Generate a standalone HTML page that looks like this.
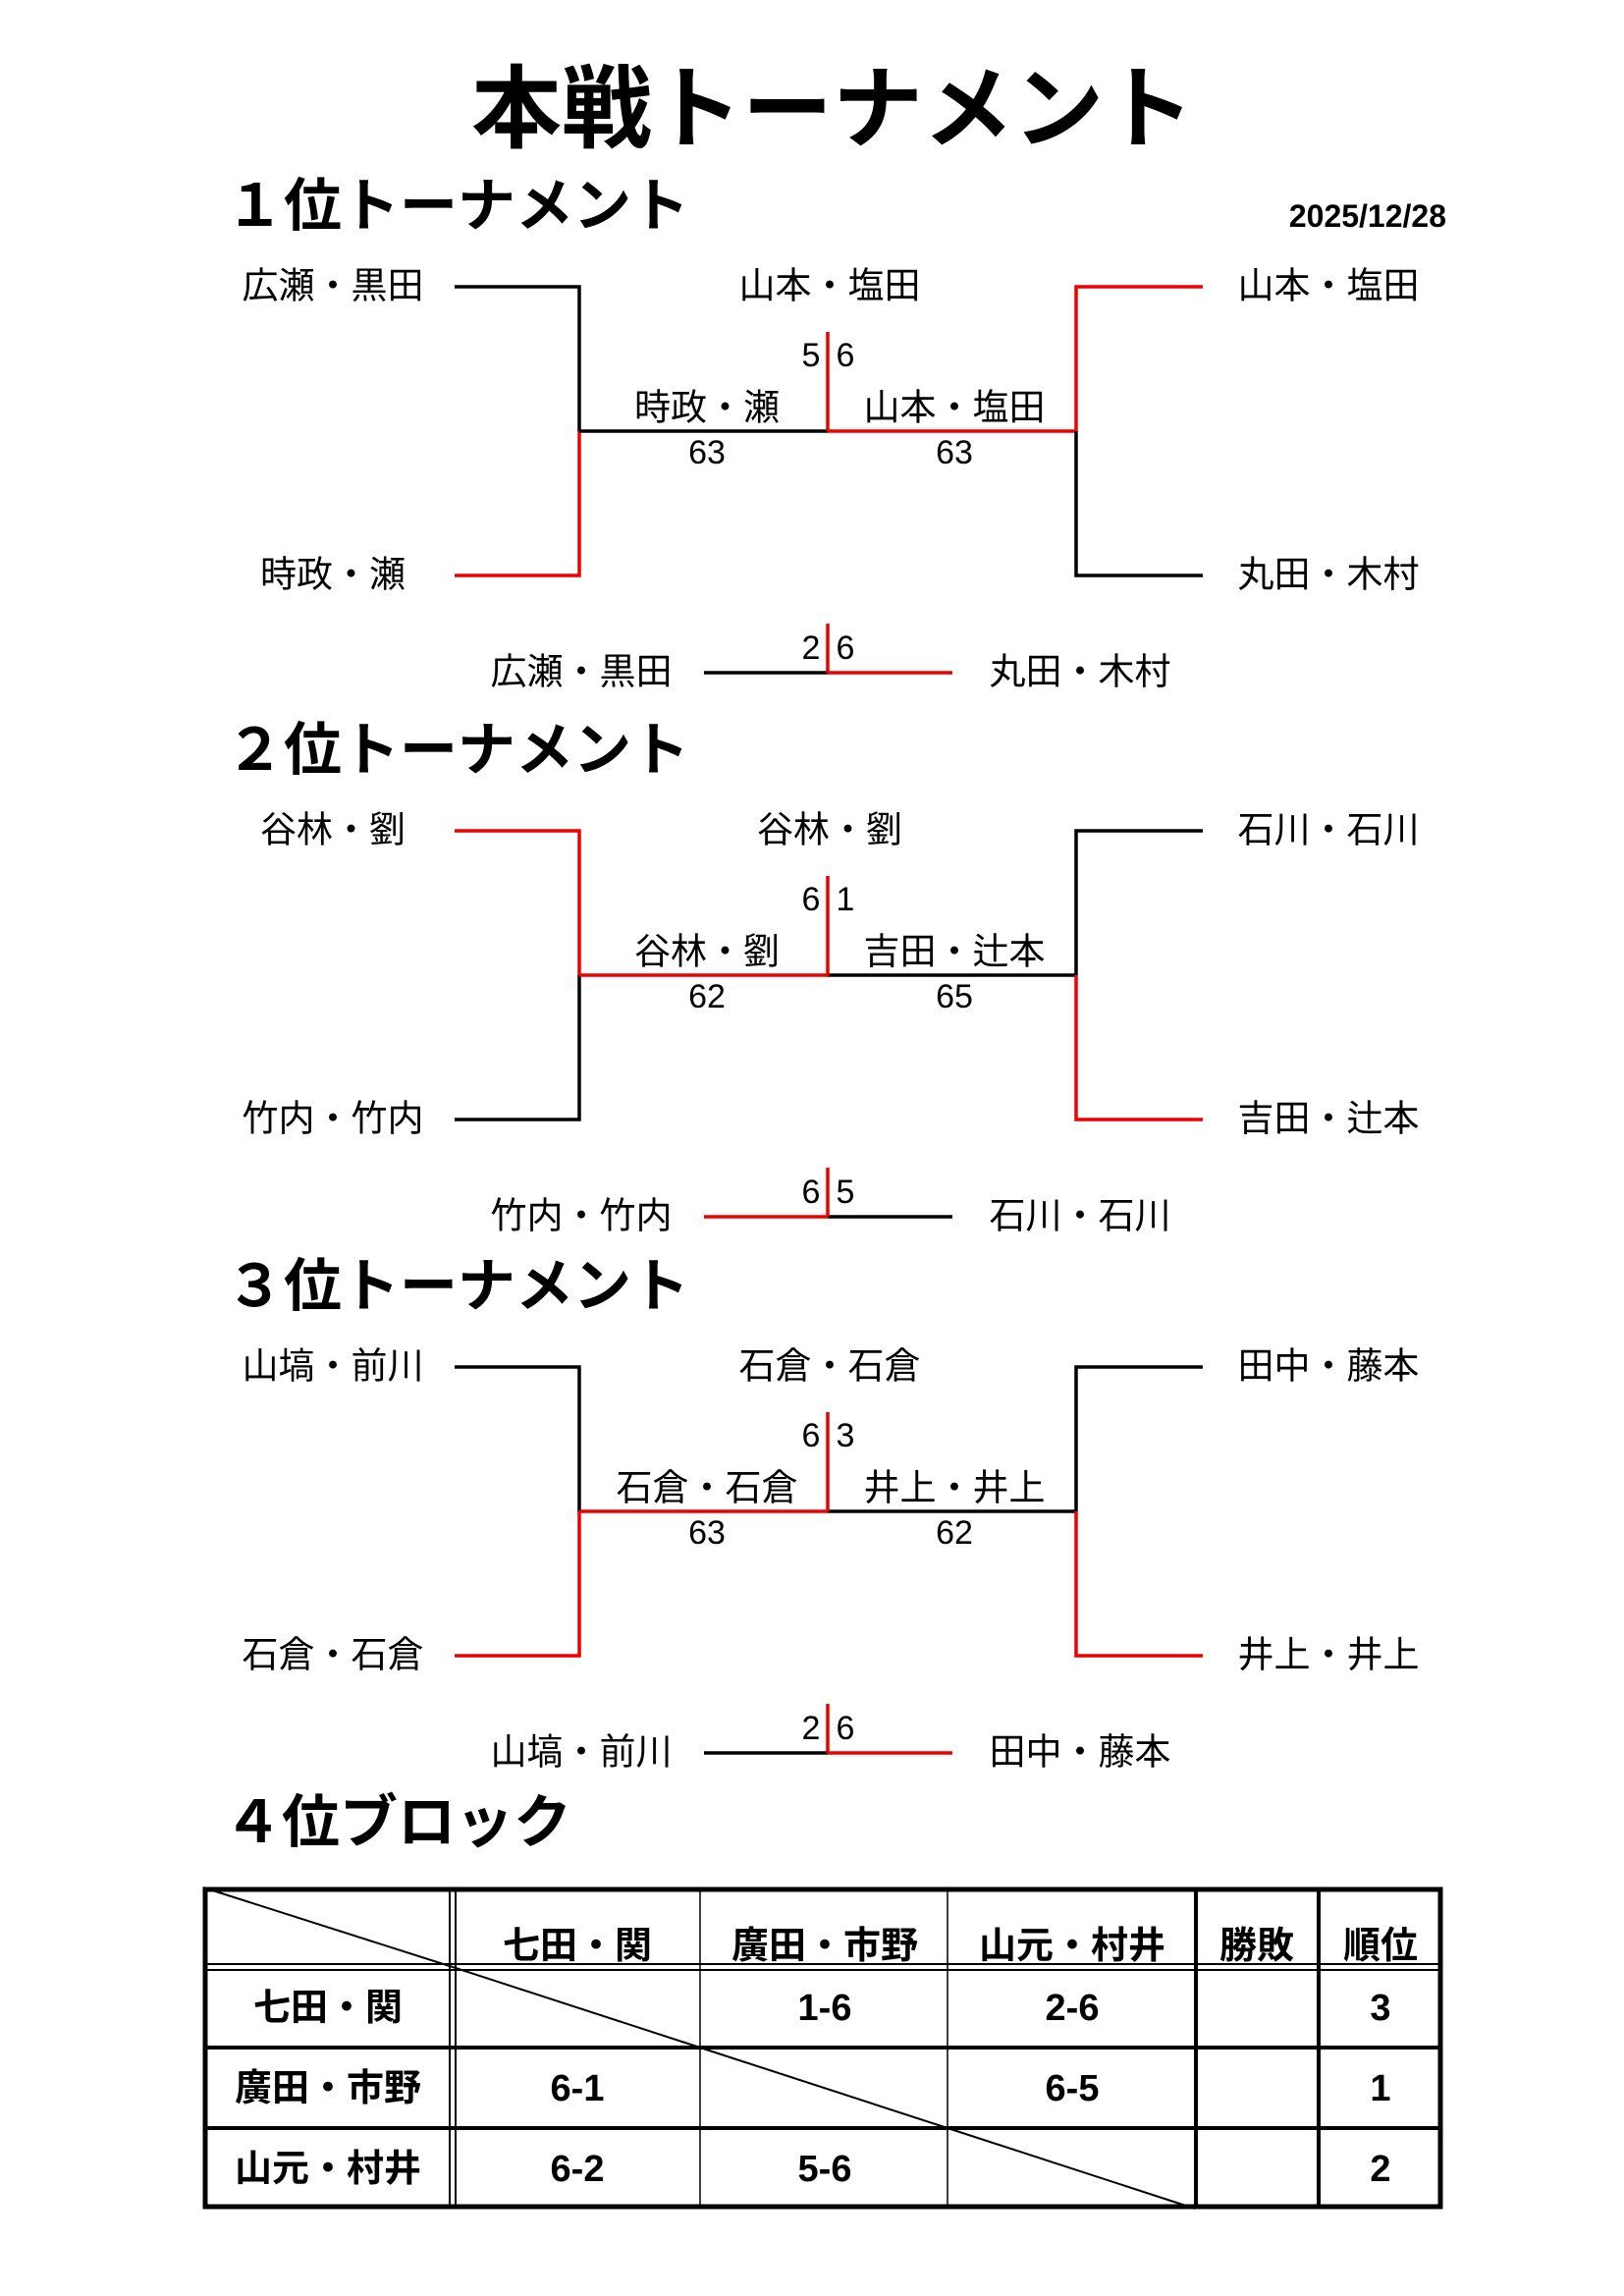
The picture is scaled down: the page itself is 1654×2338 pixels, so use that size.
<!DOCTYPE html>
<html><head><meta charset="utf-8"><style>
html,body{margin:0;padding:0;background:#fff;}
svg{display:block;}
text{font-family:"Liberation Sans","Noto Sans CJK JP",sans-serif;}
.h{font-weight:bold;}
.n{font-size:37px;text-anchor:middle;dominant-baseline:central;}
.s{font-size:34px;text-anchor:middle;dominant-baseline:central;}
.t{font-size:38px;font-weight:bold;text-anchor:middle;dominant-baseline:central;}
</style></head><body>
<svg width="1654" height="2338" viewBox="0 0 1654 2338" xmlns="http://www.w3.org/2000/svg">
<rect width="1654" height="2338" fill="#fff"/>
<text x="848" y="112" class="h" font-size="92" text-anchor="middle" dominant-baseline="central">本戦トーナメント</text>
<text x="1473" y="220" class="h" font-size="32" text-anchor="end" dominant-baseline="central">2025/12/28</text>

<!-- Section 1 -->
<g transform="translate(0,0)">
<text x="230" y="210" class="h" font-size="59" dominant-baseline="central">１位トーナメント</text>
<g fill="none" stroke-width="3.5">
<polyline points="463,292 590,292 590,439" stroke="#000"/>
<polyline points="463,586 590,586 590,439" stroke="#e00"/>
<line x1="590" y1="439" x2="843" y2="439" stroke="#000"/>
<line x1="843" y1="439" x2="1096" y2="439" stroke="#e00"/>
<line x1="843" y1="338" x2="843" y2="439" stroke="#e00"/>
<polyline points="1225,292 1096,292 1096,439" stroke="#e00"/>
<polyline points="1225,586 1096,586 1096,439" stroke="#000"/>
<line x1="717" y1="685" x2="843" y2="685" stroke="#000"/>
<line x1="843" y1="685" x2="970" y2="685" stroke="#e00"/>
<line x1="843" y1="635" x2="843" y2="685" stroke="#e00"/>
</g>
<text x="339" y="291" class="n">広瀬・黒田</text>
<text x="339" y="585" class="n">時政・瀬</text>
<text x="1353" y="291" class="n">山本・塩田</text>
<text x="1353" y="585" class="n">丸田・木村</text>
<text x="845" y="291" class="n">山本・塩田</text>
<text x="826" y="362" class="s">5</text><text x="861" y="362" class="s">6</text>
<text x="720" y="415" class="n">時政・瀬</text>
<text x="972" y="415" class="n">山本・塩田</text>
<text x="720" y="461" class="s">63</text>
<text x="972" y="461" class="s">63</text>
<text x="592" y="684" class="n">広瀬・黒田</text>
<text x="1100" y="684" class="n">丸田・木村</text>
<text x="826" y="660" class="s">2</text><text x="861" y="660" class="s">6</text>
</g>

<!-- Section 2 -->
<g transform="translate(0,554)">
<text x="230" y="210" class="h" font-size="59" dominant-baseline="central">２位トーナメント</text>
<g fill="none" stroke-width="3.5">
<polyline points="463,292 590,292 590,439" stroke="#e00"/>
<polyline points="463,586 590,586 590,439" stroke="#000"/>
<line x1="590" y1="439" x2="843" y2="439" stroke="#e00"/>
<line x1="843" y1="439" x2="1096" y2="439" stroke="#000"/>
<line x1="843" y1="338" x2="843" y2="439" stroke="#e00"/>
<polyline points="1225,292 1096,292 1096,439" stroke="#000"/>
<polyline points="1225,586 1096,586 1096,439" stroke="#e00"/>
<line x1="717" y1="685" x2="843" y2="685" stroke="#e00"/>
<line x1="843" y1="685" x2="970" y2="685" stroke="#000"/>
<line x1="843" y1="635" x2="843" y2="685" stroke="#e00"/>
</g>
<text x="339" y="291" class="n">谷林・劉</text>
<text x="339" y="585" class="n">竹内・竹内</text>
<text x="1353" y="291" class="n">石川・石川</text>
<text x="1353" y="585" class="n">吉田・辻本</text>
<text x="845" y="291" class="n">谷林・劉</text>
<text x="826" y="362" class="s">6</text><text x="861" y="362" class="s">1</text>
<text x="720" y="415" class="n">谷林・劉</text>
<text x="972" y="415" class="n">吉田・辻本</text>
<text x="720" y="461" class="s">62</text>
<text x="972" y="461" class="s">65</text>
<text x="592" y="684" class="n">竹内・竹内</text>
<text x="1100" y="684" class="n">石川・石川</text>
<text x="826" y="660" class="s">6</text><text x="861" y="660" class="s">5</text>
</g>

<!-- Section 3 -->
<g transform="translate(0,1100)">
<text x="230" y="210" class="h" font-size="59" dominant-baseline="central">３位トーナメント</text>
<g fill="none" stroke-width="3.5">
<polyline points="463,292 590,292 590,439" stroke="#000"/>
<polyline points="463,586 590,586 590,439" stroke="#e00"/>
<line x1="590" y1="439" x2="843" y2="439" stroke="#e00"/>
<line x1="843" y1="439" x2="1096" y2="439" stroke="#000"/>
<line x1="843" y1="338" x2="843" y2="439" stroke="#e00"/>
<polyline points="1225,292 1096,292 1096,439" stroke="#000"/>
<polyline points="1225,586 1096,586 1096,439" stroke="#e00"/>
<line x1="717" y1="685" x2="843" y2="685" stroke="#000"/>
<line x1="843" y1="685" x2="970" y2="685" stroke="#e00"/>
<line x1="843" y1="635" x2="843" y2="685" stroke="#e00"/>
</g>
<text x="339" y="291" class="n">山塙・前川</text>
<text x="339" y="585" class="n">石倉・石倉</text>
<text x="1353" y="291" class="n">田中・藤本</text>
<text x="1353" y="585" class="n">井上・井上</text>
<text x="845" y="291" class="n">石倉・石倉</text>
<text x="826" y="362" class="s">6</text><text x="861" y="362" class="s">3</text>
<text x="720" y="415" class="n">石倉・石倉</text>
<text x="972" y="415" class="n">井上・井上</text>
<text x="720" y="461" class="s">63</text>
<text x="972" y="461" class="s">62</text>
<text x="592" y="684" class="n">山塙・前川</text>
<text x="1100" y="684" class="n">田中・藤本</text>
<text x="826" y="660" class="s">2</text><text x="861" y="660" class="s">6</text>
</g>

<!-- 4位ブロック -->
<text x="228" y="1856" class="h" font-size="59" dominant-baseline="central">４位ブロック</text>
<g stroke="#000" fill="none">
<!-- diagonals -->
<line x1="207" y1="1922" x2="461" y2="2003" stroke-width="2"/>
<line x1="461" y1="2003" x2="713" y2="2085" stroke-width="2"/>
<line x1="713" y1="2085" x2="965" y2="2167" stroke-width="2"/>
<line x1="965" y1="2167" x2="1217" y2="2249" stroke-width="2"/>
<!-- thin columns -->
<line x1="713" y1="1922" x2="713" y2="2249" stroke-width="1.5"/>
<line x1="965" y1="1922" x2="965" y2="2249" stroke-width="1.5"/>
<!-- thick columns -->
<line x1="1218" y1="1922" x2="1218" y2="2249" stroke-width="4"/>
<line x1="1343" y1="1922" x2="1343" y2="2249" stroke-width="4"/>
<!-- double first col -->
<line x1="458" y1="1922" x2="458" y2="2249" stroke-width="2"/>
<line x1="464" y1="1922" x2="464" y2="2249" stroke-width="2"/>
<!-- double header row -->
<line x1="207" y1="2000" x2="1469" y2="2000" stroke-width="2"/>
<line x1="207" y1="2006" x2="1469" y2="2006" stroke-width="2"/>
<!-- body rows -->
<line x1="207" y1="2085" x2="1469" y2="2085" stroke-width="4"/>
<line x1="207" y1="2167" x2="1469" y2="2167" stroke-width="4"/>
<!-- outer -->
<rect x="209" y="1924" width="1258" height="323" stroke-width="5"/>
</g>
<text x="588" y="1982" class="t">七田・関</text>
<text x="840" y="1982" class="t">廣田・市野</text>
<text x="1092" y="1982" class="t">山元・村井</text>
<text x="1280" y="1982" class="t">勝敗</text>
<text x="1406" y="1982" class="t">順位</text>
<text x="334" y="2045" class="t">七田・関</text>
<text x="334" y="2127" class="t">廣田・市野</text>
<text x="334" y="2209" class="t">山元・村井</text>
<text x="840" y="2045" class="t">1-6</text>
<text x="1092" y="2045" class="t">2-6</text>
<text x="588" y="2127" class="t">6-1</text>
<text x="1092" y="2127" class="t">6-5</text>
<text x="588" y="2209" class="t">6-2</text>
<text x="840" y="2209" class="t">5-6</text>
<text x="1406" y="2045" class="t">3</text>
<text x="1406" y="2127" class="t">1</text>
<text x="1406" y="2209" class="t">2</text>
</svg>
</body></html>
